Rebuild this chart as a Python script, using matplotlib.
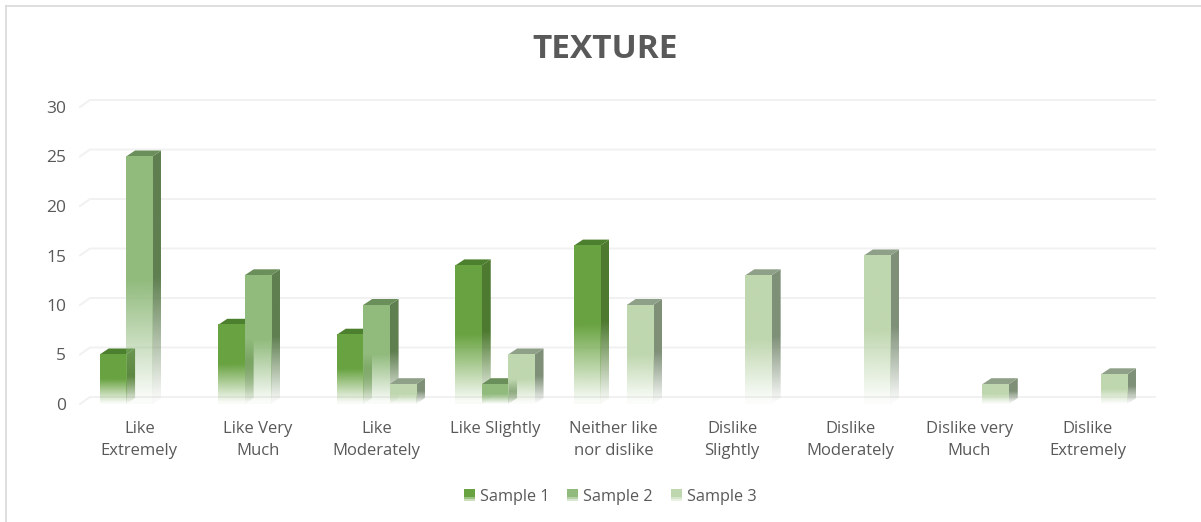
import matplotlib
matplotlib.use("Agg")
import matplotlib.pyplot as plt
import numpy as np
from matplotlib.colors import to_rgb
from matplotlib.legend_handler import HandlerBase
from matplotlib.patches import Polygon, Rectangle

categories = ["Like\nExtremely", "Like Very\nMuch", "Like\nModerately", "Like Slightly",
              "Neither like\nnor dislike", "Dislike\nSlightly", "Dislike\nModerately",
              "Dislike very\nMuch", "Dislike\nExtremely"]
sample1 = [5, 8, 7, 14, 16, 0, 0, 0, 0]
sample2 = [25, 13, 10, 2, 0, 0, 0, 0, 0]
sample3 = [0, 0, 2, 5, 10, 13, 15, 2, 3]
names = ["Sample 1", "Sample 2", "Sample 3"]
yticks = [0, 5, 10, 15, 20, 25, 30]

front = ["#69A341", "#91BB7D", "#BFD7AF"]
side = ["#4E7A30", "#5F7F50", "#7F9078"]
top = ["#4C7F2E", "#6B8F5A", "#8FA088"]

plt.rcParams['font.family'] = ['Open Sans', 'DejaVu Sans']
W, H = 1201, 522
fig = plt.figure(figsize=(W / 100, H / 100), dpi=100)
ax = fig.add_axes([80 / W, 1 - 404 / H, 1067 / W, 297 / H])
ax.set_xlim(-0.5, 8.5)
ax.set_ylim(0, 30)
ax.autoscale(False)

# depth of the fake 3d, in data units
dx = 9 / (1067 / 9)
dy = 6 / (297 / 30)
bw = 26.4 / (1067 / 9)


def fade(color):
    # solid in the upper half, going transparent to the bottom
    frac = np.linspace(1, 0, 256)
    img = np.zeros((256, 1, 4))
    img[:, 0, :3] = to_rgb(color)
    img[:, 0, 3] = np.clip(frac / 0.5, 0.04, 1)
    return img


def draw_bar(x0, v, i):
    x1 = x0 + bw
    poly = Polygon([(x1, 0), (x1 + dx, dy), (x1 + dx, v + dy), (x1, v)], closed=True,
                   transform=ax.transData, fc='none', ec='none')
    ax.add_patch(poly)
    im = ax.imshow(fade(side[i]), extent=(x1, x1 + dx, 0, v + dy), aspect='auto',
                   interpolation='bilinear', zorder=3)
    im.set_clip_path(poly)
    ax.add_patch(Polygon([(x0, v), (x1, v), (x1 + dx, v + dy), (x0 + dx, v + dy)], closed=True,
                         fc=top[i], ec='none', zorder=3))
    ax.imshow(fade(front[i]), extent=(x0, x1, 0, v), aspect='auto',
              interpolation='bilinear', zorder=3)


# gridlines on the back wall with the little diagonal on the left
gx = 10 / (1067 / 9)
gy = 7 / (297 / 30)
gend = 8 / (1067 / 9)
for t in yticks:
    ax.plot([-0.5, -0.5 + gx, 8.5 + gend], [t, t + gy, t + gy], color="#F1F1F1", lw=1.4,
            clip_on=False, zorder=1)

for i, vals in enumerate([sample1, sample2, sample3]):
    for k, v in enumerate(vals):
        if v > 0:
            draw_bar(k + (i - 1.5) * bw, v, i)
ax.set_xlim(-0.5, 8.5)
ax.set_ylim(0, 30)

ax.set_xticks(range(len(categories)))
ax.set_xticklabels(categories, linespacing=1.5)
ax.set_yticks(yticks)
ax.tick_params(length=0, labelsize=12, labelcolor="#595959")
ax.tick_params(axis='x', pad=12)
ax.tick_params(axis='y', labelsize=12.5, pad=10)
for s in ax.spines.values():
    s.set_visible(False)
ax.patch.set_alpha(0)

fig.text(605 / W, 1 - 49 / H, "TEXTURE", ha='center', va='center', fontsize=24,
         fontweight='bold', color="#595959")


class GradHandler(HandlerBase):
    def create_artists(self, legend, orig, xd, yd, width, height, fontsize, trans):
        c = orig.get_facecolor()
        out = []
        n = 6
        for j in range(n):
            a = 1 if j >= 2 else 0.35 + 0.3 * j
            out.append(Rectangle((xd, -yd + height * j / n), width, height / n + 0.2, fc=c, ec='none',
                                 alpha=a, transform=trans))
        return out


handles = [Rectangle((0, 0), 1, 1, fc=c, ec='none') for c in front]
fig.legend(handles, names, handler_map={Rectangle: GradHandler()}, ncol=3, frameon=False,
           loc='center', bbox_to_anchor=(610 / W, 1 - 497 / H), fontsize=11.7, labelcolor="#595959",
           handlelength=0.68, handleheight=0.68, handletextpad=0.3, columnspacing=1.1)

# chart border, only top and left show in the crop
fig.add_artist(plt.Line2D([6 / W, 6 / W], [0, 1 - 6 / H], color="#D9D9D9", lw=1.2))
fig.add_artist(plt.Line2D([6 / W, 1], [1 - 6 / H, 1 - 6 / H], color="#D9D9D9", lw=1.2))

fig.savefig("out.png", dpi=100)
